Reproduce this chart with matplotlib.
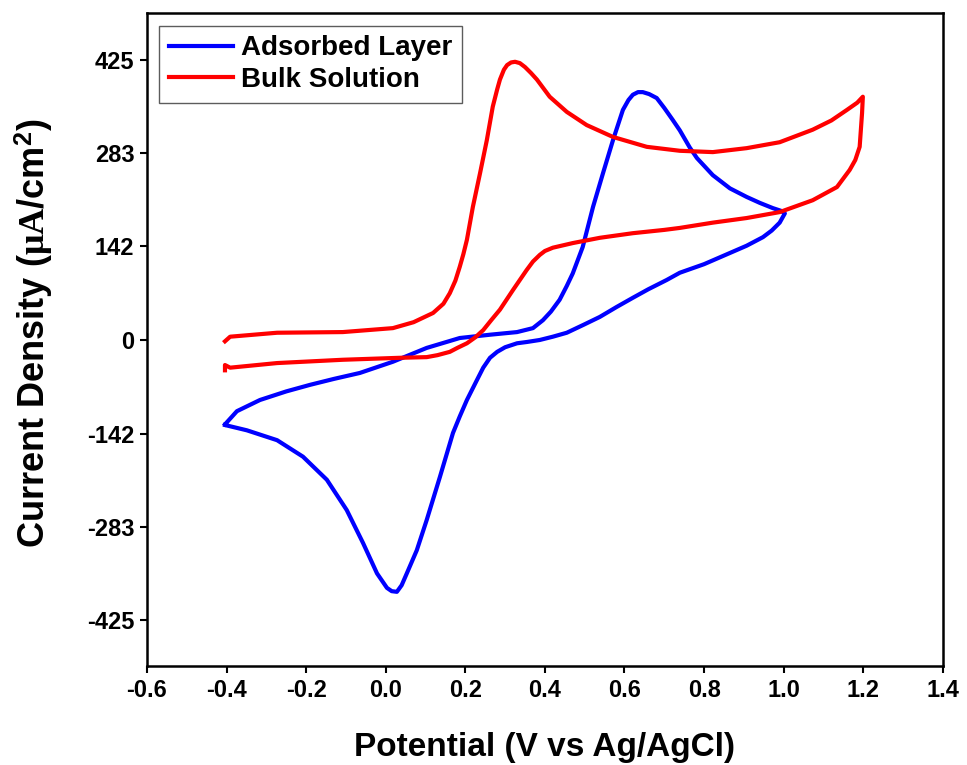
import matplotlib
matplotlib.use('Agg')
import matplotlib.pyplot as plt

plt.rcParams['font.family'] = ['Liberation Sans', 'DejaVu Sans']
plt.rcParams['font.weight'] = 'bold'
plt.rcParams['axes.unicode_minus'] = False
plt.rcParams['mathtext.fontset'] = 'custom'
plt.rcParams['mathtext.rm'] = 'Liberation Serif'
plt.rcParams['mathtext.it'] = 'Liberation Serif:italic'
plt.rcParams['mathtext.bf'] = 'Liberation Sans:bold'

# Adsorbed layer CV: forward scan to 1.0 V, then reverse scan back to -0.4 V
ads_x = [-0.404, -0.374, -0.316, -0.25, -0.19, -0.13, -0.065, 0.018, 0.103, 0.186,
         0.262, 0.33, 0.37, 0.395, 0.415, 0.437, 0.455, 0.470, 0.495, 0.521, 0.546,
         0.571, 0.596, 0.61, 0.621, 0.634, 0.646, 0.662, 0.681, 0.70, 0.721, 0.739,
         0.764, 0.782, 0.822, 0.865, 0.907, 0.94, 0.973, 0.993, 1.003,
         0.99, 0.97, 0.948, 0.907, 0.865, 0.80, 0.739, 0.706, 0.66, 0.621, 0.58,
         0.538, 0.497, 0.455, 0.42, 0.387, 0.355, 0.33, 0.30, 0.28, 0.262, 0.245,
         0.229, 0.204, 0.186, 0.169, 0.136, 0.103, 0.078, 0.053, 0.04, 0.028, 0.015,
         0.003, -0.022, -0.057, -0.098, -0.148, -0.208, -0.273, -0.349, -0.404]
ads_y = [-128, -108, -91, -78, -68, -59, -50, -33, -12, 3,
         8, 12, 18, 30, 43, 61, 82, 101, 141, 202, 253,
         303, 349, 364, 372, 376, 376, 373, 367, 352, 334, 318,
         292, 276, 250, 230, 217, 208, 200, 196, 192,
         178, 166, 156, 143, 132, 115, 102, 91, 77, 64, 50,
         35, 23, 11, 5, 0, -3, -5, -11, -18, -27, -42,
         -61, -91, -116, -141, -208, -273, -319, -354, -372, -382, -381,
         -376, -354, -308, -258, -212, -177, -152, -137, -129]

# Bulk solution CV: forward scan to 1.2 V, then reverse scan back to -0.4 V
bulk_x = [-0.404, -0.391, -0.273, -0.108, 0.018, 0.07, 0.119, 0.145, 0.161, 0.175,
          0.186, 0.195, 0.204, 0.219, 0.237, 0.254, 0.269, 0.28, 0.287, 0.297,
          0.305, 0.315, 0.325, 0.337, 0.35, 0.365, 0.38, 0.412, 0.455, 0.505,
          0.571, 0.656, 0.739, 0.822, 0.907, 0.99, 1.073, 1.12, 1.159, 1.185, 1.199,
          1.197, 1.191, 1.18, 1.166, 1.134, 1.073, 0.99, 0.907, 0.822, 0.739, 0.70,
          0.621, 0.538, 0.470, 0.420, 0.40, 0.387, 0.37, 0.354, 0.337, 0.320, 0.287,
          0.265, 0.245, 0.225, 0.204, 0.18, 0.161, 0.13, 0.103, 0.036, -0.108,
          -0.273, -0.391, -0.404, -0.404]
bulk_y = [-2, 5, 11, 12, 18, 27, 41, 55, 71, 90,
          111, 130, 152, 202, 253, 303, 354, 380, 395, 410,
          417, 421, 422, 420, 414, 405, 395, 369, 346, 326,
          308, 293, 287, 285, 291, 300, 319, 333, 349, 360, 369,
          344, 293, 273, 258, 232, 212, 194, 185, 178, 170, 167,
          162, 155, 147, 140, 135, 129, 119, 106, 91, 76, 46,
          30, 15, 4, -5, -12, -18, -23, -26, -27, -30,
          -35, -42, -38, -46]

xticks = [-0.6, -0.4, -0.2, 0.0, 0.2, 0.4, 0.6, 0.8, 1.0, 1.2, 1.4]
yticks = [-425, -283, -142, 0, 142, 283, 425]

fig = plt.figure(figsize=(9.67, 7.65), dpi=100)
ax = fig.add_axes([0.152, 0.129, 0.823, 0.854])

ax.plot(ads_x, ads_y, color='#0000FF', lw=3, label='Adsorbed Layer')
ax.plot(bulk_x, bulk_y, color='#FF0000', lw=3, label='Bulk Solution')

ax.set_xlim(-0.6, 1.4)
ax.set_ylim(-495, 496)
ax.set_xticks(xticks)
ax.set_xticklabels(['%.1f' % v for v in xticks])
ax.set_yticks(yticks)
ax.set_yticklabels([str(v) for v in yticks])
ax.tick_params(direction='out', length=5, width=1.5, labelsize=17, pad=4)
for s in ax.spines.values():
    s.set_linewidth(1.8)

ax.set_xlabel('Potential (V vs Ag/AgCl)', fontsize=24, fontweight='bold', labelpad=22)
ax.set_ylabel(r'Current Density ($\mathrm{\mu A}$/cm$^{\mathbf{2}}$)', fontsize=26,
              fontweight='bold')
ax.yaxis.set_label_coords(-0.116, 0.51)

leg = ax.legend(loc='upper left', fontsize=20, handlelength=2.3, fancybox=False,
                borderaxespad=0.45, handletextpad=0.3, borderpad=0.35, labelspacing=0.2)
leg.get_frame().set_edgecolor('#333333')
leg.get_frame().set_linewidth(1.0)

fig.savefig('out.png', dpi=100)
